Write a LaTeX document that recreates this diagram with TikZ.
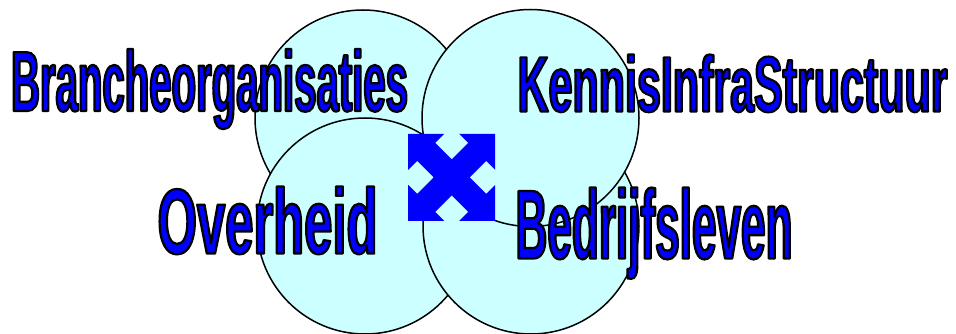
\documentclass[tikz,border=0pt]{standalone}
\usepackage{fontspec}
\setmainfont{Liberation Sans}
\definecolor{cfill}{HTML}{CCFFFF}
\definecolor{tblue}{HTML}{0000FF}
\tikzset{
  circ/.style={draw=black, fill=cfill, line width=1.5pt},
  lbl/.style={inner sep=0pt, outer sep=0pt, anchor=base west, text=tblue},
  quad/.style={fill=tblue, draw=none},
}
\newlength\waW
\newlength\waH
% #1 = width, #2 = height (numbers, in pt), #3 = text
\newcommand\wordart[3]{%
  \settowidth\waW{\fontspec{Liberation Sans Bold}\fontsize{10pt}{12pt}\selectfont #3}%
  \settoheight\waH{\fontspec{Liberation Sans Bold}\fontsize{10pt}{12pt}\selectfont #3}%
  \pgfmathsetmacro\wasize{10*#2/\waH}%
  \pgfmathsetmacro\wastretch{#1/(\waW*#2/\waH)}%
  \fontspec[FakeStretch=\wastretch]{Liberation Sans Bold}\fontsize{\wasize pt}{\wasize pt}\selectfont
  \special{pdf:literal direct 0 0 0 RG 2.2 w 1 j 2 Tr}#3\special{pdf:literal direct 0 Tr}}
\begin{document}
\begin{tikzpicture}[x=1pt, y=-1pt]
\useasboundingbox (0,0) rectangle (956,334);
% circles (order: TL, BL, BR, TR)
\path[circ] (363,118) circle[radius=108];
\path[circ] (365,226) circle[radius=108];
\path[circ] (531,226) circle[radius=108];
\path[circ] (530.5,118) circle[radius=108.5];
% four-headed arrow
\begin{scope}[shift={(451.7,177.4)}]
\path[quad] (-43.5,-43.5) -- (-7.5,-43.5) -- (-16.5,-34.5) -- (0,-18) -- (16.5,-34.5) -- (7.5,-43.5)
  -- (43.5,-43.5) -- (43.5,-7.5) -- (34.5,-16.5) -- (18,0) -- (34.5,16.5) -- (43.5,7.5)
  -- (43.5,43.5) -- (7.5,43.5) -- (16.5,34.5) -- (0,18) -- (-16.5,34.5) -- (-7.5,43.5)
  -- (-43.5,43.5) -- (-43.5,7.5) -- (-34.5,16.5) -- (-18,0) -- (-34.5,-16.5) -- (-43.5,-7.5) -- cycle;
\end{scope}
% labels
\node[lbl] (bo) at (11,111) {\wordart{397}{62}{Brancheorganisaties}};
\node[lbl] (kis) at (517.5,111.5) {\wordart{430}{57}{KennisInfraStructuur}};
\node[lbl] (ov) at (157.5,253.5) {\wordart{220}{67}{Overheid}};
\node[lbl] (bl) at (515.5,258.5) {\wordart{277}{71}{Bedrijfsleven}};
\end{tikzpicture}
\end{document}
